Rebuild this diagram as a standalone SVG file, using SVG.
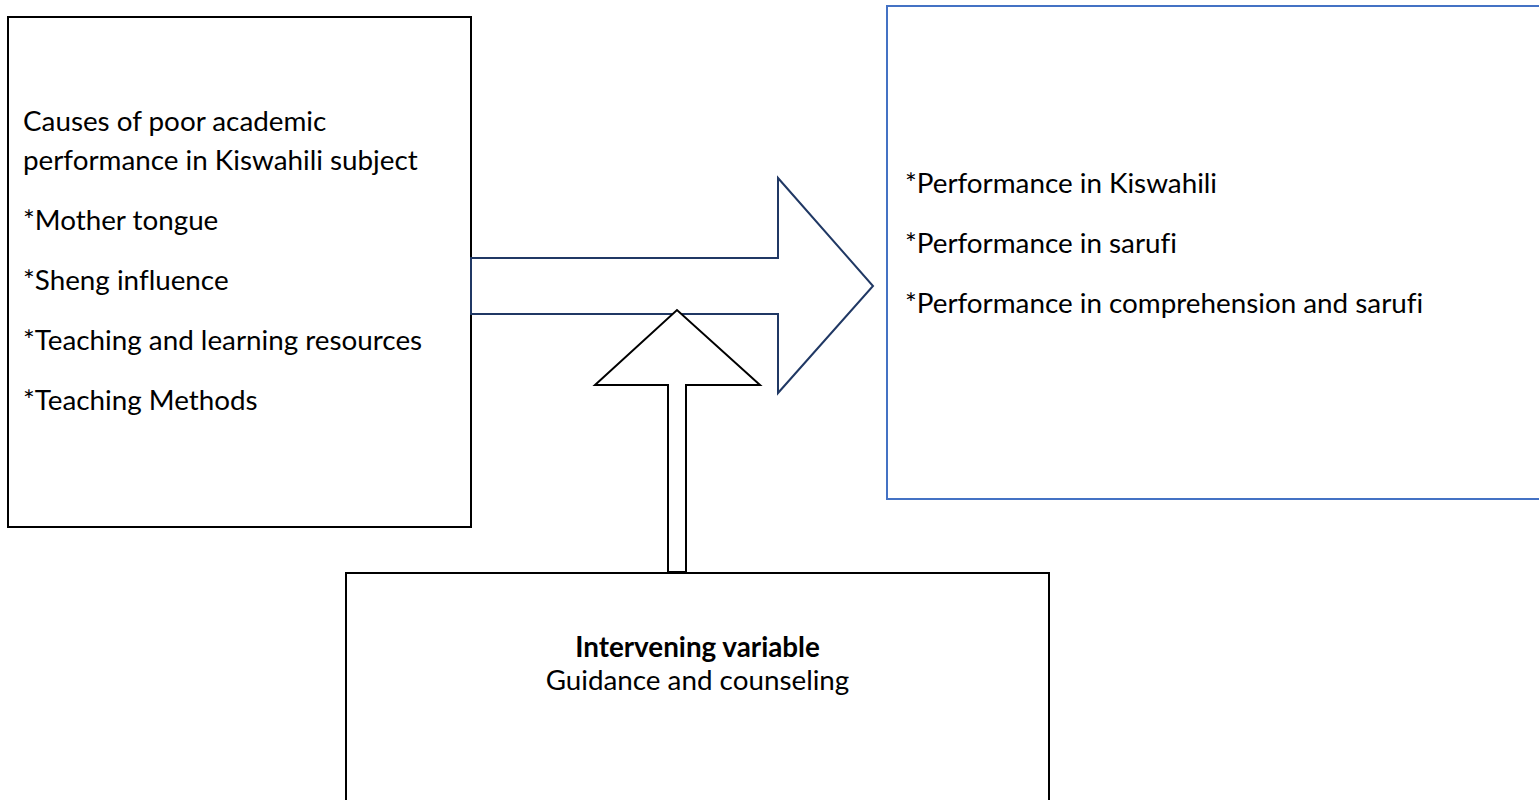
<svg xmlns="http://www.w3.org/2000/svg" width="1539" height="800" viewBox="0 0 1539 800">
<style>
  .t { font-family: Lato, "Liberation Sans", sans-serif; font-size: 27.8px; fill: #000; font-variant-ligatures: none; }
  .b { font-weight: bold; }
  .box { fill: #fff; stroke: #000; stroke-width: 2; }
  .bluebox { fill: #fff; stroke: #4472C4; stroke-width: 2; }
  .bigarrow { fill: #fff; stroke: #203864; stroke-width: 2; stroke-linejoin: miter; }
  .uparrow { fill: #fff; stroke: #000; stroke-width: 2; stroke-linejoin: miter; }
</style>
<rect width="1539" height="800" fill="#fff"/>
<g id="node-causes">
  <rect class="box" x="8" y="17" width="463" height="510"/>
  <text class="t" x="23" y="131">Causes of poor academic</text>
  <text class="t" x="23" y="170">performance in Kiswahili subject</text>
  <text class="t" x="23" y="230">*Mother tongue</text>
  <text class="t" x="23" y="290">*Sheng influence</text>
  <text class="t" x="23" y="350">*Teaching and learning resources</text>
  <text class="t" x="23" y="410">*Teaching Methods</text>
</g>
<g id="node-performance">
  <rect class="bluebox" x="887" y="6" width="700" height="493"/>
  <text class="t" x="905" y="193">*Performance in Kiswahili</text>
  <text class="t" x="905" y="253">*Performance in sarufi</text>
  <text class="t" x="905" y="313">*Performance in comprehension and sarufi</text>
</g>
<g id="node-intervening">
  <rect class="box" x="346" y="573" width="703" height="260"/>
  <text class="t b" x="697.5" y="657" text-anchor="middle">Intervening variable</text>
  <text class="t" x="697.5" y="690" text-anchor="middle">Guidance and counseling</text>
</g>
<g id="connectors">
  <polygon class="bigarrow" points="471,258 778,258 778,178 873,286 778,393 778,314 471,314"/>
  <polygon class="uparrow" points="668,572 668,385 595,385 677,310 760,385 686,385 686,572"/>
</g>
</svg>
